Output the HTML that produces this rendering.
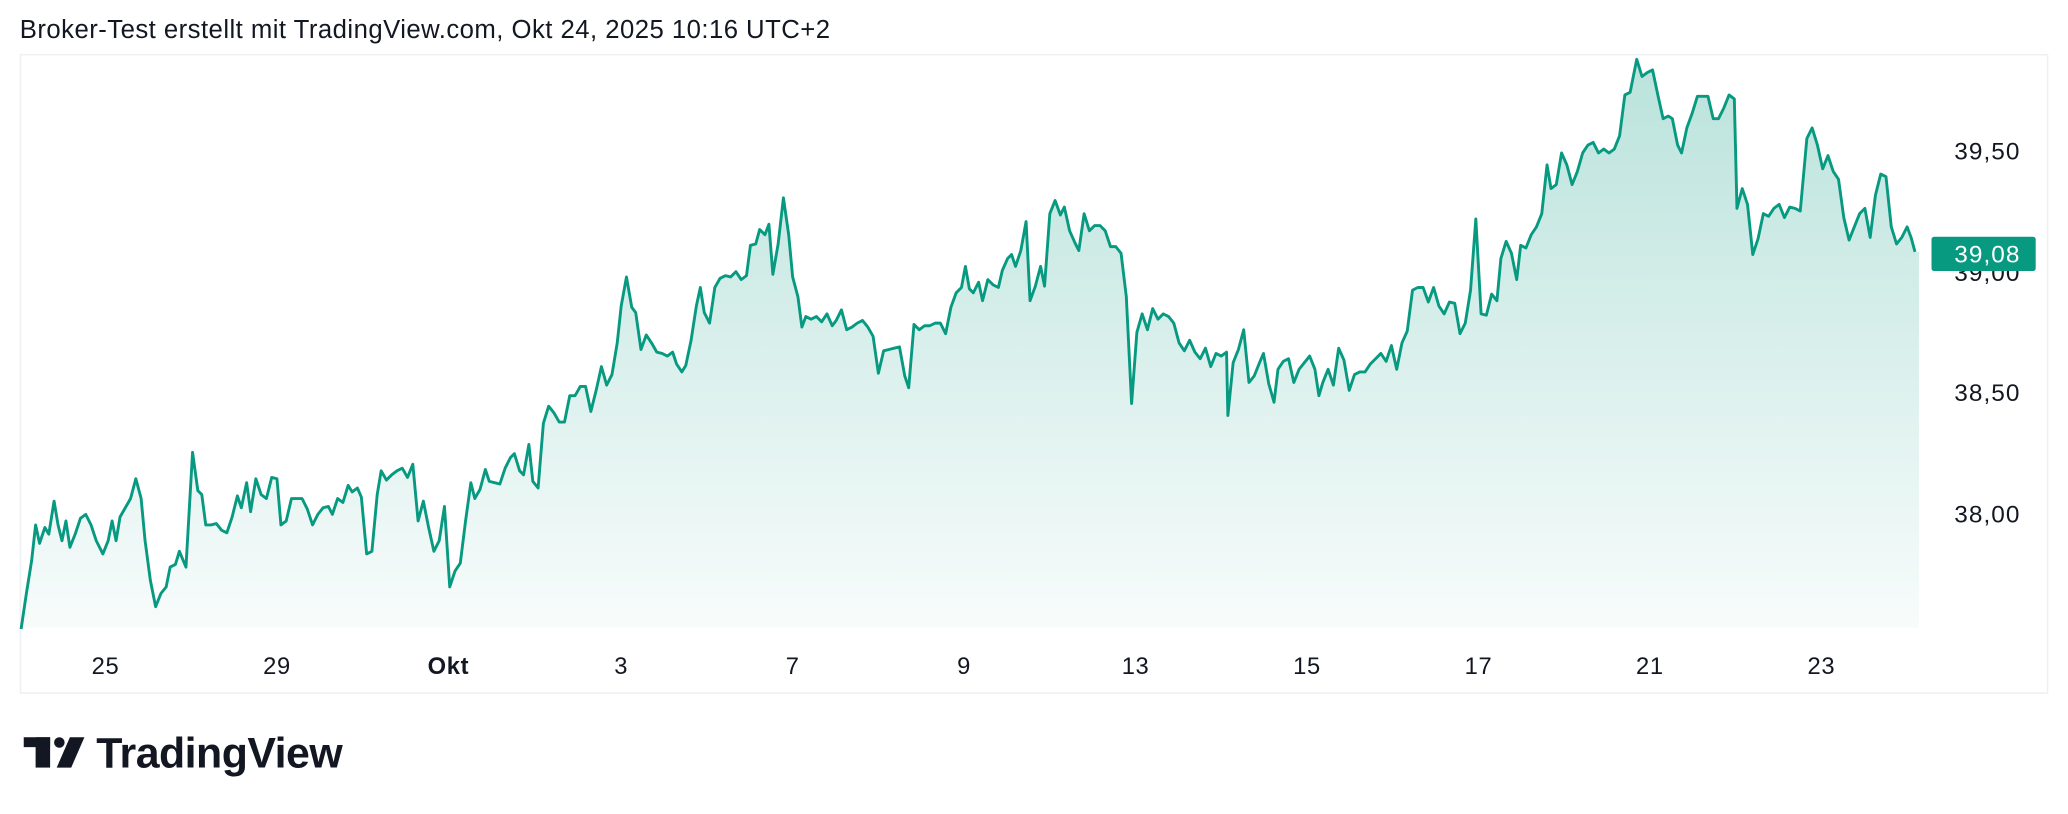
<!DOCTYPE html>
<html><head><meta charset="utf-8"><style>
html,body{margin:0;padding:0;background:#fff;width:2068px;height:814px;overflow:hidden}
svg{display:block}
text{font-family:"Liberation Sans",sans-serif}
</style></head><body>
<svg width="2068" height="814" viewBox="0 0 1568 617.2" preserveAspectRatio="none">
<defs><linearGradient id="g" x1="0" y1="45" x2="0" y2="476" gradientUnits="userSpaceOnUse">
<stop offset="0" stop-color="#089981" stop-opacity="0.28"/><stop offset="1" stop-color="#089981" stop-opacity="0.03"/></linearGradient>
<path id="p" d="M16,477 L20,450 24,425 27,398 30,412 34,400 37,405 41,380 44,398 47,410 50,395 53,415 57,405 61,393 65,390 69,398 73,410 78,420 82,410 85,395 88,410 91,392 95,385 99,378 103,363 107,378 110,410 114,440 118,460 122,450 126,445 129,430 133,428 136,418 141,430 146,343 150,372 153,375 156,398 160,398 164,397 168,402 172,404 176,392 180,376 183,385 187,366 190,388 194,363 198,375 202,378 206,362 210,363 213,398 217,395 221,378 225,378 229,378 233,386 237,398 241,390 245,385 249,384 252,390 256,378 260,381 264,368 267,373 271,370 274,377 278,420 282,418 286,375 289,357 293,364 297,360 301,357 305,355 309,362 313,352 317,395 321,380 325,400 329,418 333,410 337,384 341,445 345,433 349,427 353,395 357,366 360,378 364,371 368,356 371,365 375,366 379,367 383,355 387,347 390,344 394,357 397,360 401,337 404,365 408,370 412,321 416,308 420,313 424,320 428,320 432,300 436,300 440,293 444,293 448,312 452,296 456,278 460,292 464,284 468,260 471,232 475,210 479,233 482,237 486,265 490,254 494,260 498,267 502,268 506,270 510,267 513,276 517,282 520,277 524,258 528,232 531,218 534,237 538,245 542,218 546,211 550,209 554,210 558,206 562,212 566,209 569,186 573,185 576,174 580,178 583,170 586,208 590,185 594,150 598,178 601,210 605,225 608,248 611,240 615,242 619,240 623,244 627,238 631,247 634,243 638,235 642,250 646,248 650,245 654,243 658,248 662,255 666,283 670,266 674,265 678,264 682,263 686,285 689,294 693,246 697,250 701,247 705,247 709,245 713,245 717,253 721,233 725,222 729,218 732,202 735,219 738,222 742,214 745,228 749,212 753,216 757,218 760,205 764,196 767,193 770,202 774,190 778,168 781,228 785,217 789,202 792,217 796,162 800,152 804,163 807,157 811,175 815,184 818,190 822,162 826,175 830,171 834,171 838,175 842,187 846,187 850,192 854,225 858,306 862,252 866,238 870,250 874,234 878,242 882,238 886,240 890,245 894,260 898,266 902,258 906,267 910,272 914,264 918,278 922,268 926,270 930,267 931,315 935,275 939,265 943,250 947,290 951,285 955,275 958,268 962,291 966,305 969,280 973,274 977,272 981,290 985,280 989,275 993,270 997,280 1000,300 1003,290 1007,280 1011,292 1015,264 1019,273 1023,296 1027,284 1031,282 1035,282 1039,276 1043,272 1047,268 1051,274 1055,262 1059,280 1063,260 1067,251 1071,220 1075,218 1079,218 1083,229 1087,218 1091,232 1095,238 1099,229 1103,230 1107,253 1111,245 1115,220 1119,166 1123,238 1127,239 1131,223 1135,228 1138,196 1142,183 1146,192 1150,212 1153,186 1157,188 1161,178 1165,172 1169,162 1173,125 1176,143 1180,140 1184,116 1188,125 1192,140 1196,130 1200,116 1204,110 1208,108 1212,116 1216,113 1220,116 1224,113 1228,103 1232,72 1236,70 1241,45 1245,58 1249,55 1253,53 1257,72 1261,90 1265,88 1268,90 1272,110 1275,116 1279,97 1283,86 1287,73 1291,73 1295,73 1299,90 1303,90 1307,82 1311,72 1315,75 1317,158 1321,143 1325,155 1329,193 1333,181 1337,162 1341,164 1345,158 1349,155 1353,165 1357,157 1361,158 1365,160 1370,105 1374,97 1378,110 1382,128 1386,118 1390,130 1394,136 1398,165 1402,182 1406,172 1410,162 1414,158 1418,180 1422,148 1426,132 1430,134 1434,172 1438,185 1442,180 1446,172 1449,180 1452,191"/>
</defs>
<text x="15" y="29" font-size="19.5" fill="#131722" letter-spacing="0.35">Broker-Test erstellt mit TradingView.com, Okt 24, 2025 10:16 UTC+2</text>
<rect x="15.5" y="41.5" width="1537" height="484" fill="none" stroke="#eef0f3" stroke-width="1.2"/>
<path d="M16,477 L20,450 24,425 27,398 30,412 34,400 37,405 41,380 44,398 47,410 50,395 53,415 57,405 61,393 65,390 69,398 73,410 78,420 82,410 85,395 88,410 91,392 95,385 99,378 103,363 107,378 110,410 114,440 118,460 122,450 126,445 129,430 133,428 136,418 141,430 146,343 150,372 153,375 156,398 160,398 164,397 168,402 172,404 176,392 180,376 183,385 187,366 190,388 194,363 198,375 202,378 206,362 210,363 213,398 217,395 221,378 225,378 229,378 233,386 237,398 241,390 245,385 249,384 252,390 256,378 260,381 264,368 267,373 271,370 274,377 278,420 282,418 286,375 289,357 293,364 297,360 301,357 305,355 309,362 313,352 317,395 321,380 325,400 329,418 333,410 337,384 341,445 345,433 349,427 353,395 357,366 360,378 364,371 368,356 371,365 375,366 379,367 383,355 387,347 390,344 394,357 397,360 401,337 404,365 408,370 412,321 416,308 420,313 424,320 428,320 432,300 436,300 440,293 444,293 448,312 452,296 456,278 460,292 464,284 468,260 471,232 475,210 479,233 482,237 486,265 490,254 494,260 498,267 502,268 506,270 510,267 513,276 517,282 520,277 524,258 528,232 531,218 534,237 538,245 542,218 546,211 550,209 554,210 558,206 562,212 566,209 569,186 573,185 576,174 580,178 583,170 586,208 590,185 594,150 598,178 601,210 605,225 608,248 611,240 615,242 619,240 623,244 627,238 631,247 634,243 638,235 642,250 646,248 650,245 654,243 658,248 662,255 666,283 670,266 674,265 678,264 682,263 686,285 689,294 693,246 697,250 701,247 705,247 709,245 713,245 717,253 721,233 725,222 729,218 732,202 735,219 738,222 742,214 745,228 749,212 753,216 757,218 760,205 764,196 767,193 770,202 774,190 778,168 781,228 785,217 789,202 792,217 796,162 800,152 804,163 807,157 811,175 815,184 818,190 822,162 826,175 830,171 834,171 838,175 842,187 846,187 850,192 854,225 858,306 862,252 866,238 870,250 874,234 878,242 882,238 886,240 890,245 894,260 898,266 902,258 906,267 910,272 914,264 918,278 922,268 926,270 930,267 931,315 935,275 939,265 943,250 947,290 951,285 955,275 958,268 962,291 966,305 969,280 973,274 977,272 981,290 985,280 989,275 993,270 997,280 1000,300 1003,290 1007,280 1011,292 1015,264 1019,273 1023,296 1027,284 1031,282 1035,282 1039,276 1043,272 1047,268 1051,274 1055,262 1059,280 1063,260 1067,251 1071,220 1075,218 1079,218 1083,229 1087,218 1091,232 1095,238 1099,229 1103,230 1107,253 1111,245 1115,220 1119,166 1123,238 1127,239 1131,223 1135,228 1138,196 1142,183 1146,192 1150,212 1153,186 1157,188 1161,178 1165,172 1169,162 1173,125 1176,143 1180,140 1184,116 1188,125 1192,140 1196,130 1200,116 1204,110 1208,108 1212,116 1216,113 1220,116 1224,113 1228,103 1232,72 1236,70 1241,45 1245,58 1249,55 1253,53 1257,72 1261,90 1265,88 1268,90 1272,110 1275,116 1279,97 1283,86 1287,73 1291,73 1295,73 1299,90 1303,90 1307,82 1311,72 1315,75 1317,158 1321,143 1325,155 1329,193 1333,181 1337,162 1341,164 1345,158 1349,155 1353,165 1357,157 1361,158 1365,160 1370,105 1374,97 1378,110 1382,128 1386,118 1390,130 1394,136 1398,165 1402,182 1406,172 1410,162 1414,158 1418,180 1422,148 1426,132 1430,134 1434,172 1438,185 1442,180 1446,172 1449,180 1452,191 L1455,191 1455,476 16,476 Z" fill="url(#g)" stroke="none"/>
<use href="#p" fill="none" stroke="#089981" stroke-width="2.2" stroke-linejoin="round"/>
<g font-size="18.5" fill="#131722" text-anchor="end" letter-spacing="0.8">
<text x="1532" y="121">39,50</text>
<text x="1532" y="213">39,00</text>
<text x="1532" y="304">38,50</text>
<text x="1532" y="396">38,00</text>
</g>
<rect x="1464.5" y="179.5" width="79" height="26" rx="2" fill="#089981"/>
<text x="1532" y="199" font-size="18.5" fill="#fff" text-anchor="end" letter-spacing="0.8">39,08</text>
<g font-size="18" fill="#131722" text-anchor="middle" letter-spacing="0.5">
<text x="80" y="511">25</text><text x="210" y="511">29</text><text x="340" y="511" font-weight="bold">Okt</text>
<text x="471" y="511">3</text><text x="601" y="511">7</text><text x="731" y="511">9</text>
<text x="861" y="511">13</text><text x="991" y="511">15</text><text x="1121" y="511">17</text>
<text x="1251" y="511">21</text><text x="1381" y="511">23</text>
</g>
<g fill="#131722">
<rect x="18" y="559" width="20" height="7.5"/>
<rect x="27" y="559" width="11" height="23"/>
<circle cx="45" cy="563" r="4"/>
<polygon points="53,559 64,559 54,582 43,582"/>
<text x="73" y="582" font-size="32.5" font-weight="bold" letter-spacing="-0.4">TradingView</text>
</g>
</svg>
</body></html>
